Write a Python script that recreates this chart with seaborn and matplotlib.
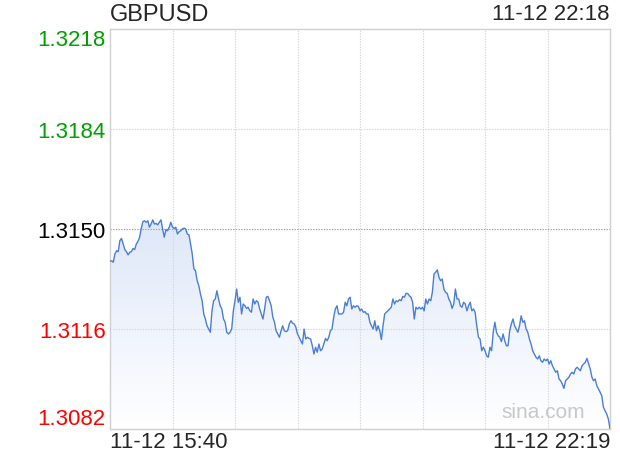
import numpy as np
import seaborn as sns
import matplotlib.pyplot as plt
from matplotlib.colors import LinearSegmentedColormap

symbol = "GBPUSD"
stamp_top = "11-12 22:18"
time_first = "11-12 15:40"
time_last = "11-12 22:19"
span_minutes = 399  # 15:40 -> 22:19
prev_close = 1.3150
y_ticks = [1.3082, 1.3116, 1.3150, 1.3184, 1.3218]
y_tick_labels = ["1.3082", "1.3116", "1.3150", "1.3184", "1.3218"]

# quotes, one every ~1.3 minutes
prices = [
    1.31390, 1.31392, 1.31387, 1.31415, 1.31426, 1.31423, 1.31460, 1.31468, 1.31449, 1.31430,
    1.31423, 1.31412, 1.31421, 1.31423, 1.31434, 1.31430, 1.31449, 1.31458, 1.31472, 1.31502,
    1.31525, 1.31528, 1.31523, 1.31528, 1.31506, 1.31517, 1.31531, 1.31517, 1.31519, 1.31514,
    1.31523, 1.31531, 1.31500, 1.31472, 1.31498, 1.31494, 1.31506, 1.31523, 1.31506, 1.31502,
    1.31506, 1.31483, 1.31491, 1.31494, 1.31500,
    1.31503, 1.31500, 1.31483, 1.31480, 1.31449, 1.31415, 1.31364, 1.31358, 1.31324, 1.31307,
    1.31279, 1.31256, 1.31211, 1.31194, 1.31171, 1.31160, 1.31149, 1.31222, 1.31256, 1.31262,
    1.31290, 1.31262, 1.31239, 1.31228, 1.31194, 1.31183, 1.31149, 1.31143, 1.31149, 1.31160,
    1.31222, 1.31256, 1.31296, 1.31251, 1.31268, 1.31211, 1.31245, 1.31239, 1.31230, 1.31234,
    1.31222, 1.31217, 1.31262, 1.31245, 1.31256, 1.31251, 1.31228, 1.31211, 1.31194, 1.31228,
    1.31268, 1.31271, 1.31256, 1.31239, 1.31200, 1.31183, 1.31154, 1.31143, 1.31132, 1.31154,
    1.31171, 1.31154, 1.31151, 1.31154, 1.31177, 1.31188, 1.31180, 1.31177, 1.31166, 1.31143,
    1.31132, 1.31120, 1.31109, 1.31160, 1.31126, 1.31132, 1.31128, 1.31126, 1.31103, 1.31075,
    1.31098, 1.31081, 1.31109, 1.31086, 1.31092, 1.31109, 1.31128, 1.31120, 1.31132, 1.31154,
    1.31160, 1.31200, 1.31228, 1.31239, 1.31211, 1.31211, 1.31211, 1.31217,
    1.31251, 1.31239, 1.31262, 1.31268, 1.31228, 1.31239, 1.31234, 1.31239, 1.31237, 1.31222,
    1.31228, 1.31217, 1.31219, 1.31211, 1.31211, 1.31183, 1.31171, 1.31160, 1.31188, 1.31154,
    1.31171, 1.31154, 1.31124, 1.31171, 1.31211, 1.31217, 1.31222, 1.31228, 1.31234, 1.31262,
    1.31245, 1.31256, 1.31253, 1.31260, 1.31256, 1.31271, 1.31268, 1.31281, 1.31281, 1.31273,
    1.31268, 1.31251, 1.31194, 1.31234, 1.31228, 1.31234, 1.31228, 1.31234, 1.31222, 1.31262,
    1.31245, 1.31262, 1.31256, 1.31285, 1.31347, 1.31353, 1.31361, 1.31336, 1.31324, 1.31330,
    1.31296, 1.31285, 1.31281, 1.31262, 1.31251, 1.31230, 1.31245, 1.31296, 1.31262, 1.31262,
    1.31239, 1.31234, 1.31251, 1.31245, 1.31222, 1.31239, 1.31251, 1.31222, 1.31228, 1.31217,
    1.31171, 1.31132, 1.31126, 1.31086, 1.31098, 1.31086, 1.31069, 1.31064, 1.31098, 1.31086,
    1.31149, 1.31183, 1.31149, 1.31137, 1.31132, 1.31117, 1.31143, 1.31120, 1.31103,
    1.31103, 1.31154, 1.31177, 1.31194, 1.31171, 1.31160, 1.31149, 1.31171, 1.31205, 1.31183,
    1.31188, 1.31160, 1.31149, 1.31126, 1.31109, 1.31086, 1.31075, 1.31064, 1.31058, 1.31069,
    1.31052, 1.31047, 1.31058, 1.31052, 1.31058, 1.31041, 1.31052, 1.31035, 1.31024, 1.31013,
    1.31018, 1.30990, 1.30984, 1.30973, 1.30958, 1.30984, 1.30990, 1.30996, 1.31007, 1.31013,
    1.31007, 1.31024, 1.31030, 1.31024, 1.31018, 1.31035, 1.31041, 1.31047, 1.31060, 1.31041,
    1.31024, 1.30996, 1.30984, 1.30990, 1.30967, 1.30956, 1.30945, 1.30933, 1.30894, 1.30882,
    1.30871, 1.30854, 1.30820,
]
minutes = np.linspace(0, span_minutes, len(prices))

sns.set_style("white")
plt.rcParams['font.family'] = ['Liberation Sans', 'DejaVu Sans']

fig = plt.figure(figsize=(6.2, 4.6), dpi=100)
ax = fig.add_axes([110 / 620, 30 / 460, 500 / 620, 400 / 460])

ymin, ymax = y_ticks[0], y_ticks[-1]

# gradient fill under the line
poly = ax.fill_between(minutes, prices, ymin, facecolor="none", edgecolor="none")
cmap = LinearSegmentedColormap.from_list("fade", ["#dce6f8", "#ffffff"])
grad = np.linspace(0, 1, 256).reshape(-1, 1)
img = ax.imshow(grad, cmap=cmap, aspect="auto", extent=[0, span_minutes, ymin, 1.3158],
                origin="upper", zorder=1)
img.set_clip_path(poly.get_paths()[0], transform=ax.transData)

sns.lineplot(x=minutes, y=prices, ax=ax, color="#4a7ed6", linewidth=1.0, zorder=3)

ax.set_xlim(0, span_minutes)
ax.set_ylim(ymin, ymax)

# grid
for gx in np.linspace(0, span_minutes, 9)[1:-1]:
    ax.axvline(gx, color="#d6d6d6", lw=0.8, dashes=(1.2, 1.2), zorder=2)
for gy in [y_ticks[1], y_ticks[3]]:
    ax.axhline(gy, color="#d6d6d6", lw=0.8, dashes=(1.2, 1.2), zorder=2)
ax.axhline(prev_close, color="#a0a0a0", lw=0.8, dashes=(1.2, 1.2), zorder=2)

for s in ax.spines.values():
    s.set_color("#d0d0d0")
    s.set_linewidth(1)

ax.set_xticks([])
ax.set_yticks(y_ticks)
ax.set_yticklabels(y_tick_labels)
ax.tick_params(axis="y", length=0, pad=3, labelsize=16)
tick_colors = ["#ff0000", "#ff0000", "#000000", "#00a000", "#00a000"]
labels = ax.get_yticklabels()
for lab, c in zip(labels, tick_colors):
    lab.set_color(c)
labels[0].set_verticalalignment("bottom")
labels[-1].set_verticalalignment("top")
ax.set_xlabel("")
ax.set_ylabel("")

fig.text(110 / 620, 1 - 15 / 460, symbol, fontsize=17, ha="left", va="center")
fig.text(610 / 620, 1 - 15 / 460, stamp_top, fontsize=16, ha="right", va="center")
fig.text(110 / 620, 1 - 443 / 460, time_first, fontsize=16, ha="left", va="center")
fig.text(610 / 620, 1 - 443 / 460, time_last, fontsize=16, ha="right", va="center")
fig.text(585 / 620, 1 - 412 / 460, "sina.com", fontsize=15, color="#c8c8c8",
         ha="right", va="center")

fig.savefig("out.png", dpi=100)
